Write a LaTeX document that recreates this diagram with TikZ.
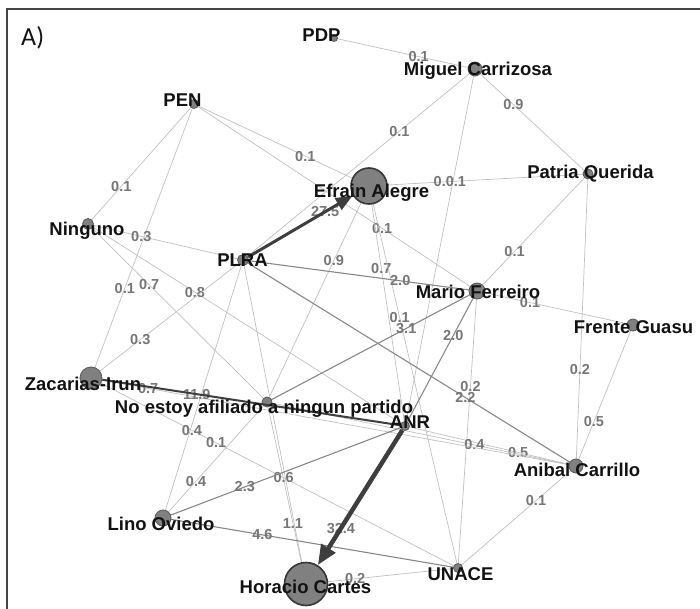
\documentclass[tikz,border=0pt]{standalone}
\usepackage{fontspec}
\setmainfont{Liberation Sans}
\newfontfamily\carl{Carlito}
\usetikzlibrary{arrows.meta}
\pgfdeclarelayer{bg}
\pgfsetlayers{bg,main}
\definecolor{lightedge}{RGB}{192,192,192}
\definecolor{midedge}{RGB}{135,135,135}
\definecolor{darkedge}{RGB}{62,62,62}
\definecolor{labgray}{RGB}{118,118,118}
\definecolor{dotfill}{RGB}{128,128,128}
\definecolor{dotline}{RGB}{88,88,88}
\definecolor{bigline}{RGB}{55,55,55}
\definecolor{framecol}{RGB}{70,70,70}
\definecolor{txt}{RGB}{18,18,18}
\begin{document}
\begin{tikzpicture}[x=1pt,y=-1pt,
  vdot/.style={circle, fill=dotfill, draw=dotline, line width=0.8pt, inner sep=0pt, minimum size=#1},
  bigdot/.style={circle, fill=dotfill, draw=bigline, line width=1.6pt, inner sep=0pt, minimum size=#1},
  vlab/.style={font=\fontsize{18.5}{20}\selectfont\bfseries, text=txt, inner sep=0pt, anchor=base},
  elab/.style={font=\fontsize{14.5}{16}\selectfont\bfseries, text=labgray, inner sep=0pt},
  ledge/.style={draw=lightedge, line width=0.7pt},
  medge/.style={draw=midedge, line width=1.1pt}]
\useasboundingbox (0,0) rectangle (700,609);
\begin{scope}
\clip (0,0) rectangle (700,609);
\draw[framecol, line width=2pt] (6.5,640) -- (6.5,9.5) -- (730,9.5);
\end{scope}

% vertices
\node[vdot=7pt]  (pdp)  at (334,38)  {};
\node[vdot=14pt] (mig)  at (475,69)  {};
\node[vdot=9pt]  (pen)  at (194,104) {};
\node[bigdot=36pt] (eff) at (369,186) {};
\node[vdot=10pt] (pat)  at (588,174) {};
\node[vdot=11pt] (nin)  at (88,224)  {};
\node[vdot=11pt] (plra) at (243,260) {};
\node[vdot=16pt] (mar)  at (477,291) {};
\node[vdot=12pt] (fre)  at (633,325) {};
\node[vdot=22pt] (zac)  at (91,378)  {};
\node[vdot=10pt] (noe)  at (267,402) {};
\node[vdot=9pt]  (anr)  at (405,426) {};
\node[vdot=14pt] (ani)  at (576,466) {};
\node[vdot=16pt] (lin)  at (163,518) {};
\node[bigdot=43pt] (hor) at (306,584) {};
\node[vdot=9pt]  (una)  at (458,568) {};

\begin{pgfonlayer}{bg}
% light edges
\draw[ledge] (pdp.center) -- node[elab,pos=.6] (l1) {0.1} (mig.center);
\draw[ledge] (mig.center) -- node[elab,pos=.34] (l2) {0.9} (pat.center);
\draw[ledge] (mig.center) -- node[elab,pos=.326] (l3) {0.1} (plra.center);
\draw[ledge] (mig.center) -- (anr.center);
\draw[ledge] (pen.center) -- node[elab,pos=.686] (l5) {0.1} (nin.center);
\draw[ledge] (pen.center) -- node[elab,pos=.672] (l6) {0.1} (zac.center);
\draw[ledge] (pen.center) -- node[elab,pos=.636] (l7) {0.1} (eff.center);
\draw[ledge] (pen.center) -- node[elab,pos=.665] (l8) {0.1} (mar.center);
\draw[ledge] (eff.center) -- node[elab,pos=.369] (l9) {0.0.1} (pat.center);
\draw[ledge] (eff.center) -- node[elab,pos=.342] (l10) {0.7} (anr.center);
\draw[ledge] (eff.center) -- node[elab,pos=.345] (l11) {0.1} (una.center);
\draw[ledge] (noe.center) -- node[elab,pos=.655] (l12) {0.9} (eff.center);
\draw[ledge] (nin.center) -- node[elab,pos=.344] (l13) {0.3} (plra.center);
\draw[ledge] (nin.center) -- node[elab,pos=.342] (l14) {0.7} (noe.center);
\draw[ledge] (nin.center) -- node[elab,pos=.337] (l15) {0.8} (anr.center);
\draw[ledge] (plra.center) -- node[elab,pos=.676] (l16) {0.3} (zac.center);
\draw[ledge] (plra.center) -- (lin.center);
\draw[ledge] (plra.center) -- (hor.center);
\draw[ledge] (noe.center) -- node[elab,pos=.665] (l19) {1.1} (hor.center);
\draw[ledge] (pat.center) -- node[elab,pos=.662] (l20) {0.1} (mar.center);
\draw[ledge] (pat.center) -- node[elab,pos=.671] (l21) {0.2} (ani.center);
\draw[ledge] (mar.center) -- node[elab,pos=.34] (l22) {0.1} (fre.center);
\draw[ledge] (fre.center) -- node[elab,pos=.685] (l23) {0.5} (ani.center);
\draw[ledge] (mar.center) -- node[elab,pos=.343] (l24) {0.2} (una.center);
\draw[ledge] (ani.center) -- node[elab,pos=.339] (l25) {0.1} (una.center);
\draw[ledge] (hor.center) -- node[elab,pos=.323] (l26) {0.2} (una.center);
\draw[ledge] (anr.center) -- node[elab,pos=.662] (l27) {0.5} (ani.center);
\draw[ledge] (noe.center) -- node[elab,pos=.671] (l28) {0.4} (ani.center);
\draw[ledge] (zac.center) -- node[elab,pos=.118] (l29) {0.7} (ani.center);
\draw[ledge] (zac.center) -- node[elab,pos=.275] (l30) {0.4}
                             node[elab,pos=.341] (l30b) {0.1}
                             node[elab,pos=.525] (l30c) {0.6} (una.center);
\draw[ledge] (lin.center) -- node[elab,pos=.318] (l31) {0.4} (noe.center);
% medium edges
\draw[medge] (plra.center) -- node[elab,pos=.672] (l32) {2.0} (mar.center);
\draw[medge] (noe.center) -- node[elab,pos=.663] (l33) {3.1} (mar.center);
\draw[medge] (mar.center) -- node[elab,pos=.329] (l34) {2.0} (anr.center);
\draw[medge] (plra.center) -- node[elab,pos=.668] (l35) {2.2} (ani.center);
\draw[medge] (lin.center) -- node[elab,pos=.338] (l36) {2.3} (anr.center);
\draw[medge] (lin.center) -- node[elab,pos=.337] (l37) {4.6} (una.center);
% labels of heavy edges
\path (plra.center) -- node[elab,pos=.652] (l38) {27.5} (eff.center);
\path (anr.center) -- node[elab,pos=.647] (l39) {32.4} (hor.center);
\path (zac.center) -- node[elab,pos=.337] (l40) {11.9} (anr.center);
\end{pgfonlayer}

% heavy edges
\draw[darkedge, line width=2pt] (zac) -- (anr);
\draw[darkedge, line width=3pt, -{Triangle[length=17pt,width=13pt]}] (plra) -- (eff);
\draw[darkedge, line width=4.5pt, -{Triangle[length=20pt,width=16pt]}] (anr) -- (hor);

% vertex names
\node[vlab] (t-pdp)  at (321.5,42)  {PDP};
\node[vlab] (t-mig)  at (478,76)    {Miguel Carrizosa};
\node[vlab] (t-pen)  at (182.5,107) {PEN};
\node[vlab] (t-eff)  at (371.5,198) {Efrain Alegre};
\node[vlab] (t-pat)  at (590.5,179) {Patria Querida};
\node[vlab] (t-nin)  at (87,236)    {Ninguno};
\node[vlab] (t-plra) at (242.5,266) {PLRA};
\node[vlab] (t-mar)  at (478,298)   {Mario Ferreiro};
\node[vlab] (t-fre)  at (633.5,333) {Frente Guasu};
\node[vlab] (t-zac)  at (83,390)    {Zacarias-Irun};
\node[vlab] (t-noe)  at (264,413)   {No estoy afiliado a ningun partido};
\node[vlab] (t-anr)  at (410,428)   {ANR};
\node[vlab] (t-ani)  at (577,476)   {Anibal Carrillo};
\node[vlab] (t-lin)  at (161,530)   {Lino Oviedo};
\node[vlab] (t-hor)  at (305.5,593) {Horacio Cartes};
\node[vlab] (t-una)  at (460.5,580) {UNACE};

\node[font=\carl\fontsize{26}{28}\selectfont, text=txt, inner sep=0pt, anchor=base west] (tA) at (21,46) {A)};
\end{tikzpicture}
\end{document}
